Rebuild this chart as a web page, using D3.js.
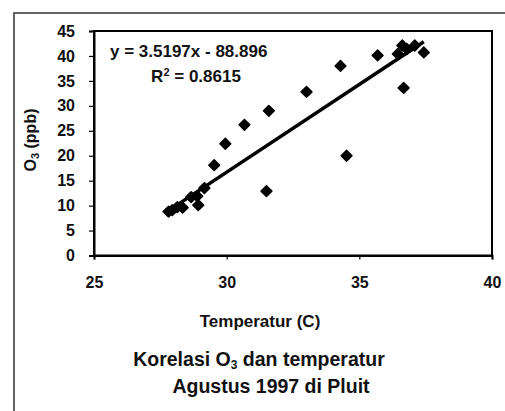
<!DOCTYPE html>
<html>
<head>
  <script src="https://d3js.org/d3.v7.min.js"></script>
  <style>
    body { margin: 0; background: #fff; }
    text { font-family: "Liberation Sans", Arial, sans-serif; font-weight: bold; fill: #111; }
  </style>
</head>
<body>
  <script>
    // data
    var temperatur = [27.81, 27.95, 28.14, 28.34, 28.66, 28.89, 28.93, 29.16, 29.53, 29.95,
                      30.67, 31.59, 31.50, 33.01, 34.29, 34.52, 35.69, 36.45, 36.62, 36.79,
                      36.67, 37.09, 37.43];
    var ozon = [8.8, 9.1, 9.7, 9.6, 11.7, 11.9, 10.1, 13.5, 18.1, 22.4,
                26.2, 29.0, 12.9, 32.8, 38.0, 20.0, 40.1, 40.4, 42.1, 41.4,
                33.6, 42.1, 40.7];
    var slope = 3.5197, intercept = -88.896;
    var xTicks = [25, 30, 35, 40];
    var yTicks = [0, 5, 10, 15, 20, 25, 30, 35, 40, 45];

    var width = 505, height = 411;

    var svg = d3.select('body').append('svg')
      .attr('width', width)
      .attr('height', height);

    // outer frame of the figure (left and top edges of the scanned box)
    svg.append('path')
      .attr('d', 'M14,411 L14,13 L505,13')
      .attr('fill', 'none')
      .attr('stroke', '#333')
      .attr('stroke-width', 1.5);

    var x = d3.scaleLinear().domain([25, 40]).range([94, 492]);
    var y = d3.scaleLinear().domain([0, 45]).range([255.5, 31]);

    // plot box
    svg.append('rect')
      .attr('x', x(25)).attr('y', y(45))
      .attr('width', x(40) - x(25)).attr('height', y(0) - y(45))
      .attr('fill', 'none').attr('stroke', '#000').attr('stroke-width', 2);

    // axes
    var yAxis = svg.append('g')
      .attr('transform', 'translate(' + x(25) + ',0)')
      .call(d3.axisLeft(y).tickValues(yTicks).tickSize(5).tickPadding(14));
    var xAxis = svg.append('g')
      .attr('transform', 'translate(0,' + y(0) + ')')
      .call(d3.axisBottom(x).tickValues(xTicks).tickSize(4).tickPadding(17));

    [yAxis, xAxis].forEach(function (g) {
      g.select('.domain').attr('stroke', '#000').attr('stroke-width', 2);
      g.selectAll('.tick line').attr('stroke', '#000').attr('stroke-width', 1.2);
      g.selectAll('.tick text').style('font-size', '16px').attr('fill', '#111');
    });

    // points
    var pts = temperatur.map(function (t, i) { return [t, ozon[i]]; });
    var diamond = d3.symbol().type(d3.symbolSquare).size(58);
    svg.append('g').selectAll('path')
      .data(pts)
      .enter()
      .append('path')
      .attr('d', diamond)
      .attr('transform', function (d) {
        return 'translate(' + x(d[0]) + ',' + y(d[1]) + ') rotate(45)';
      })
      .attr('fill', '#000')
      .attr('stroke', '#000')
      .attr('stroke-width', 1.5)
      .attr('stroke-linejoin', 'round');

    // trend line
    var xr = d3.extent(temperatur);
    svg.append('line')
      .attr('x1', x(xr[0])).attr('y1', y(slope * xr[0] + intercept))
      .attr('x2', x(xr[1])).attr('y2', y(slope * xr[1] + intercept))
      .attr('stroke', '#000')
      .attr('stroke-width', 3.5);

    // equation
    svg.append('text')
      .attr('x', 110).attr('y', 57)
      .style('font-size', '17px')
      .text('y = 3.5197x - 88.896');
    var r2 = svg.append('text')
      .attr('x', 196).attr('y', 82)
      .attr('text-anchor', 'middle')
      .style('font-size', '17px');
    r2.append('tspan').text('R');
    r2.append('tspan').attr('dy', -6).style('font-size', '11px').text('2');
    r2.append('tspan').attr('dy', 6).text(' = 0.8615');

    // axis titles
    svg.append('text')
      .attr('x', 260).attr('y', 327)
      .attr('text-anchor', 'middle')
      .style('font-size', '17px')
      .text('Temperatur (C)');

    var yt = svg.append('text')
      .attr('transform', 'translate(36,140) rotate(-90)')
      .attr('text-anchor', 'middle')
      .style('font-size', '16px');
    yt.append('tspan').text('O');
    yt.append('tspan').attr('dy', 3).style('font-size', '11px').text('3');
    yt.append('tspan').attr('dy', -3).text(' (ppb)');

    // caption
    var c1 = svg.append('text')
      .attr('x', 259).attr('y', 366)
      .attr('text-anchor', 'middle')
      .style('font-size', '19.5px');
    c1.append('tspan').text('Korelasi O');
    c1.append('tspan').attr('dy', 3).style('font-size', '12px').text('3');
    c1.append('tspan').attr('dy', -3).text(' dan temperatur');
    svg.append('text')
      .attr('x', 271).attr('y', 393)
      .attr('text-anchor', 'middle')
      .style('font-size', '19.5px')
      .text('Agustus 1997 di Pluit');
  </script>
</body>
</html>
